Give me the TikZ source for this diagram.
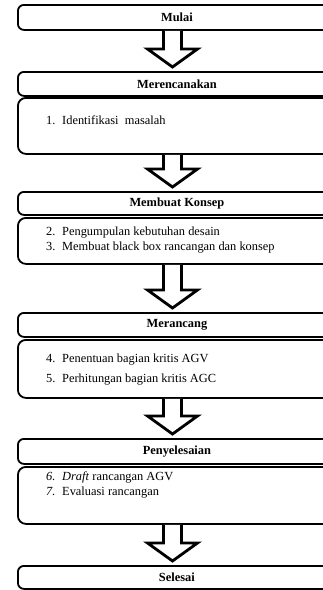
\documentclass[tikz,border=0pt]{standalone}
\usepackage{fontspec}
\setmainfont{Liberation Serif}
\usetikzlibrary{calc}
\begin{document}
\begin{tikzpicture}[x=1pt,y=-1pt,
  hbox/.style={draw, line width=1.8pt, rounded corners=6pt, minimum width=318pt,
    anchor=north west, inner sep=0pt, font=\fontsize{12.4}{15}\selectfont\bfseries},
  bbox/.style={draw, line width=1.8pt, rounded corners=8pt, minimum width=318pt,
    anchor=north west, inner sep=0pt},
  item/.style={anchor=mid west, inner sep=0pt, font=\fontsize{12.4}{15}\selectfont},
  arr/.style={draw, fill=white, line width=2.8pt, miter limit=10}]
\useasboundingbox (0,0) rectangle (323,590);
\newcommand\num[1]{\makebox[16pt][l]{#1}}
\newcommand\flowarrow[2]{%
  \path[arr] let \p1=(#1.south), \p2=(#2.north) in
    ({172.5pt-9pt},\y1) -- ({172.5pt-9pt},\y2+22pt) -- ({172.5pt-25pt},\y2+22pt)
    -- (172.5pt,\y2+4pt) -- ({172.5pt+25pt},\y2+22pt) -- ({172.5pt+9pt},\y2+22pt)
    -- ({172.5pt+9pt},\y1);}

\node[hbox, minimum height=25pt] (mulai) at (17,4) {Mulai};

\node[hbox, minimum height=24pt] (h1) at (17,71) {Merencanakan};
\node[bbox, minimum height=56pt] (b1) at (17,97) {};
\node[item] (i1) at (46,122) {\num{1.}Identifikasi\ \ masalah};

\node[hbox, minimum height=23pt] (h2) at (17,191) {Membuat Konsep};
\node[bbox, minimum height=46pt] (b2) at (17,217) {};
\node[item] (i2) at (46,233) {\num{2.}Pengumpulan kebutuhan desain};
\node[item] (i3) at (46,248) {\num{3.}Membuat black box rancangan dan konsep};

\node[hbox, minimum height=24pt] (h3) at (17,312) {Merancang};
\node[bbox, minimum height=58pt] (b3) at (17,339) {};
\node[item] (i4) at (46,360) {\num{4.}Penentuan bagian kritis AGV};
\node[item] (i5) at (46,380) {\num{5.}Perhitungan bagian kritis AGC};

\node[hbox, minimum height=25pt] (h4) at (17,438) {Penyelesaian};
\node[bbox, minimum height=57pt] (b4) at (17,466) {};
\node[item] (i6) at (46,478) {\num{\textit{6.}}\textit{Draft} rancangan AGV};
\node[item] (i7) at (46,493) {\num{\textit{7.}}Evaluasi rancangan};

\node[hbox, minimum height=23pt] (selesai) at (17,565) {Selesai};

\flowarrow{mulai}{h1}
\flowarrow{b1}{h2}
\flowarrow{b2}{h3}
\flowarrow{b3}{h4}
\flowarrow{b4}{selesai}
\end{tikzpicture}
\end{document}
